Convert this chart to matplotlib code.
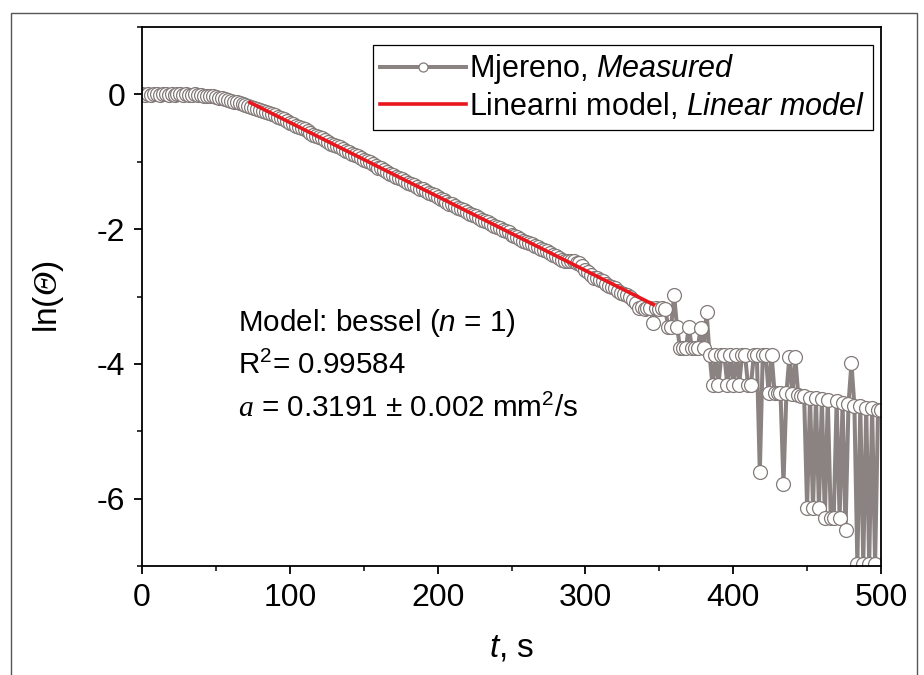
import numpy as np
import matplotlib
matplotlib.use("Agg")
import matplotlib.pyplot as plt
from matplotlib.patches import Rectangle
from matplotlib.ticker import MultipleLocator

plt.rcParams['font.family'] = ['Liberation Sans', 'DejaVu Sans']
plt.rcParams['mathtext.fontset'] = 'custom'
plt.rcParams['mathtext.rm'] = 'Liberation Sans'
plt.rcParams['mathtext.it'] = 'Liberation Sans:italic'
plt.rcParams['mathtext.cal'] = 'Liberation Serif:italic'

# ---------------- data ----------------
t_measured = np.arange(0, 501, 2)  # sampling grid, s

ln_flat = [0.00, -0.01, 0.00, -0.01, 0.00, 0.00, -0.01, 0.00, 0.00, -0.01, 0.00,
           -0.01, 0.00, 0.00, -0.01, 0.00, -0.01, -0.01, 0.00, -0.01, -0.01]
ln_bend = [-0.02, -0.02, -0.03, -0.03, -0.04, -0.05, -0.06, -0.07, -0.09, -0.10,
           -0.11, -0.12, -0.13, -0.15, -0.16, -0.17]
ln_linear = [-0.19, -0.20, -0.22, -0.23, -0.24, -0.26, -0.28, -0.29, -0.31, -0.33,
             -0.35, -0.37, -0.40, -0.42, -0.44, -0.47, -0.49, -0.50, -0.52, -0.55,
             -0.57, -0.60, -0.62, -0.63,
             -0.65, -0.68, -0.70, -0.73, -0.75, -0.76, -0.78, -0.81, -0.84, -0.86,
             -0.88, -0.90, -0.92, -0.95, -0.97, -0.99, -1.01, -1.04, -1.07, -1.09,
             -1.10, -1.12, -1.15, -1.18, -1.20, -1.22, -1.24, -1.26, -1.28, -1.31,
             -1.33, -1.35, -1.38, -1.40, -1.41, -1.44, -1.46, -1.48, -1.50, -1.53,
             -1.55, -1.57, -1.60, -1.62, -1.63, -1.65, -1.68, -1.70, -1.72, -1.75,
             -1.77, -1.79, -1.81, -1.84, -1.86, -1.88, -1.89, -1.92, -1.95, -1.97,
             -1.99, -2.01, -2.03, -2.05, -2.08, -2.10, -2.11, -2.14, -2.17, -2.19,
             -2.20, -2.22, -2.25, -2.27, -2.30, -2.31, -2.33, -2.36, -2.38, -2.40,
             -2.43, -2.46, -2.47, -2.47, -2.48, -2.48, -2.50, -2.51, -2.55, -2.60,
             -2.64, -2.68, -2.72, -2.72, -2.75, -2.77, -2.82, -2.85, -2.86, -2.88,
             -2.92, -2.95, -2.97, -2.98, -3.00, -3.05, -3.10, -3.17, -3.16, -3.18,
             -3.17, -3.17, -3.40, -3.17, -3.18, -3.17, -3.18,
             -3.45, -3.45, -2.98, -3.45, -3.76, -3.76, -3.76, -3.45, -3.76, -3.76,
             -3.76, -3.47, -3.76, -3.23]
ln_noisy = [-3.87, -4.31, -3.87, -4.31, -3.87, -3.87, -4.31, -3.87, -4.31, -3.87,
            -4.31, -3.87, -3.87, -4.31, -4.31, -3.87, -3.87, -5.61, -3.87, -3.87,
            -4.43, -3.87, -4.43, -4.43, -4.43, -5.78, -4.43, -3.90, -4.45, -3.90,
            -4.46, -4.48, -4.48, -6.14, -4.50, -6.14, -4.51, -6.14, -4.52, -6.29,
            -4.53, -6.29, -6.29, -4.55, -6.29, -4.58, -6.47, -4.60, -3.99, -4.62,
            -6.97, -4.63, -6.97, -4.65, -6.97, -4.66, -6.97, -4.68, -4.68]
ln_measured = ln_flat + ln_bend + ln_linear + ln_noisy

fit_t = [73, 346]
fit_ln = [-0.12, -3.12]

x_ticks = [0, 100, 200, 300, 400, 500]
y_ticks = [0, -2, -4, -6]
y_ticklabels = ["0", "-2", "-4", "-6"]

# ---------------- figure ----------------
fig = plt.figure(figsize=(9.24, 6.75), dpi=100)
ax = fig.add_axes([142/924, 1-566/675, 739/924, 539/675])

gray_line = '#8a8381'
gray_edge = '#837b79'
ax.plot(t_measured, ln_measured, '-', color=gray_line, lw=2.9,
        marker='o', ms=10, mfc='white', mec=gray_edge, mew=0.9,
        label=r'Mjereno, $\mathit{Measured}$', zorder=2)
ax.plot(fit_t, fit_ln, '-', color='#e8161d', lw=2.6,
        label=r'Linearni model, $\mathit{Linear\ model}$', zorder=3)

ax.set_xlim(0, 500)
ax.set_ylim(-7, 1)
ax.set_xticks(x_ticks)
ax.set_yticks(y_ticks)
ax.set_yticklabels(y_ticklabels)
ax.xaxis.set_minor_locator(MultipleLocator(50))
ax.yaxis.set_minor_locator(MultipleLocator(1))
ax.tick_params(which='major', direction='out', length=6, width=1.3, labelsize=23,
               top=False, right=False, pad=6)
ax.tick_params(which='minor', direction='out', length=3.5, width=1.1,
               top=False, right=False)
for s in ax.spines.values():
    s.set_linewidth(1.3)

ax.set_xlabel(r'$t$, s', fontsize=24, labelpad=14)
ax.set_ylabel(r'ln($\mathcal{\Theta}$)', fontsize=24, labelpad=22)

leg = ax.legend(loc='upper right', bbox_to_anchor=(0.9885, 0.967), fontsize=22,
                frameon=True, fancybox=False, edgecolor='black', framealpha=1,
                handlelength=2.8, handletextpad=0.1, borderpad=0.25,
                labelspacing=0.15, markerscale=0.65, borderaxespad=0)
leg.get_frame().set_linewidth(0.9)

tx = 0.130
ax.text(tx, 0.451, r'Model: bessel ($\mathit{n}$ = 1)', transform=ax.transAxes,
        fontsize=21.3, va='center', ha='left')
ax.text(tx, 0.373, r'R$^2$= 0.99584', transform=ax.transAxes,
        fontsize=21.3, va='center', ha='left')
ax.text(tx, 0.293, r'$\mathcal{a}$ = 0.3191 ± 0.002 mm$^2$/s', transform=ax.transAxes,
        fontsize=21.3, va='center', ha='left')

# outer frame around the figure
fig.patches.append(Rectangle((11/924, -0.02), (917-11)/924, 1-13/675+0.02,
                             transform=fig.transFigure, fill=False,
                             edgecolor='#555555', lw=1.0))

fig.savefig('out.png', dpi=100)
